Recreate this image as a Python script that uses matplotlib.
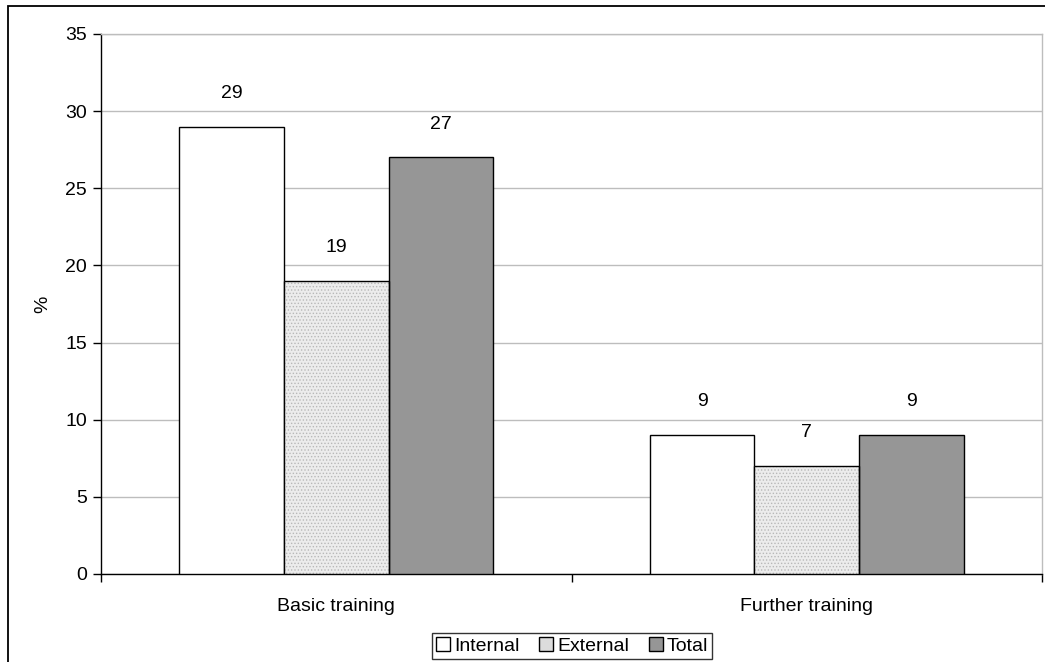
import matplotlib.pyplot as plt
import numpy as np
from matplotlib.patches import Rectangle

plt.rcParams['font.family'] = ['Liberation Sans', 'DejaVu Sans']

# data
categories = ['Basic training', 'Further training']
series = ['Internal', 'External', 'Total']
internal = [29, 9]
external = [19, 7]
total = [27, 9]
yticks = [0, 5, 10, 15, 20, 25, 30, 35]

W, H = 1045, 662
FS = 14
fig = plt.figure(figsize=(W / 100, H / 100), dpi=100)
ax = fig.add_axes([101 / W, 1 - 574 / H, 941 / W, 540 / H])

x = np.arange(len(categories))
bw = 0.2222
values = [internal, external, total]
offsets = [-bw, 0, bw]

# Internal: white
ax.bar(x + offsets[0], internal, bw, color='white', edgecolor='black', linewidth=1.0, zorder=3)
# External: fine dotted fill
plt.rcParams['hatch.color'] = '#b8b8b8'
plt.rcParams['hatch.linewidth'] = 0.6
ax.bar(x + offsets[1], external, bw, color='#ececec', hatch='.....', edgecolor='#b8b8b8', linewidth=0, zorder=3)
ax.bar(x + offsets[1], external, bw, fill=False, edgecolor='black', linewidth=1.0, zorder=4)
# Total: grey
ax.bar(x + offsets[2], total, bw, color='#969696', edgecolor='black', linewidth=1.0, zorder=3)

for vals, off in zip(values, offsets):
    for xi, v in zip(x, vals):
        ax.annotate(str(v), (xi + off, v), xytext=(0, 24), textcoords='offset points',
                    ha='center', va='center', fontsize=FS)

ax.set_xlim(-0.5, len(categories) - 0.5)
ax.set_ylim(0, 35)
ax.set_yticks(yticks)
ax.tick_params(axis='y', labelsize=FS, length=6, width=1, direction='out', pad=4)
ax.yaxis.grid(True, color='#bdbdbd', linewidth=1)
ax.set_axisbelow(True)

# category boundaries as major ticks, names as minor labels
ax.set_xticks(np.arange(len(categories) + 1) - 0.5)
ax.set_xticklabels([])
ax.tick_params(axis='x', which='major', length=6, width=1, direction='out')
ax.set_xticks(x, minor=True)
ax.set_xticklabels(categories, minor=True, fontsize=FS)
ax.tick_params(axis='x', which='minor', length=0, pad=17)

for s in ['left', 'bottom']:
    ax.spines[s].set_color('black')
    ax.spines[s].set_linewidth(1)
for s in ['top', 'right']:
    ax.spines[s].set_color('#bdbdbd')
    ax.spines[s].set_linewidth(1)

ax.set_ylabel('%', fontsize=FS)
ax.yaxis.set_label_coords(-50 / 941, 0.5)

handles = [Rectangle((0, 0), 1, 1, facecolor='white', edgecolor='black', lw=1),
           Rectangle((0, 0), 1, 1, facecolor='#dcdcdc', edgecolor='black', lw=1),
           Rectangle((0, 0), 1, 1, facecolor='#969696', edgecolor='black', lw=1)]
leg = fig.legend(handles, series, loc='center', bbox_to_anchor=(572 / W, 1 - 646 / H),
                 ncol=3, fontsize=FS, frameon=True, fancybox=False, edgecolor='black',
                 handlelength=0.75, handleheight=0.75, handletextpad=0.2, columnspacing=1.0,
                 borderpad=0.2, borderaxespad=0)
leg.get_frame().set_linewidth(1)

# outer chart border
fig.add_artist(Rectangle((8 / W, -0.01), 1.0, 1 - 6 / H + 0.01, transform=fig.transFigure,
                         fill=False, edgecolor='black', linewidth=1.3))

fig.savefig('out.png', dpi=100)
